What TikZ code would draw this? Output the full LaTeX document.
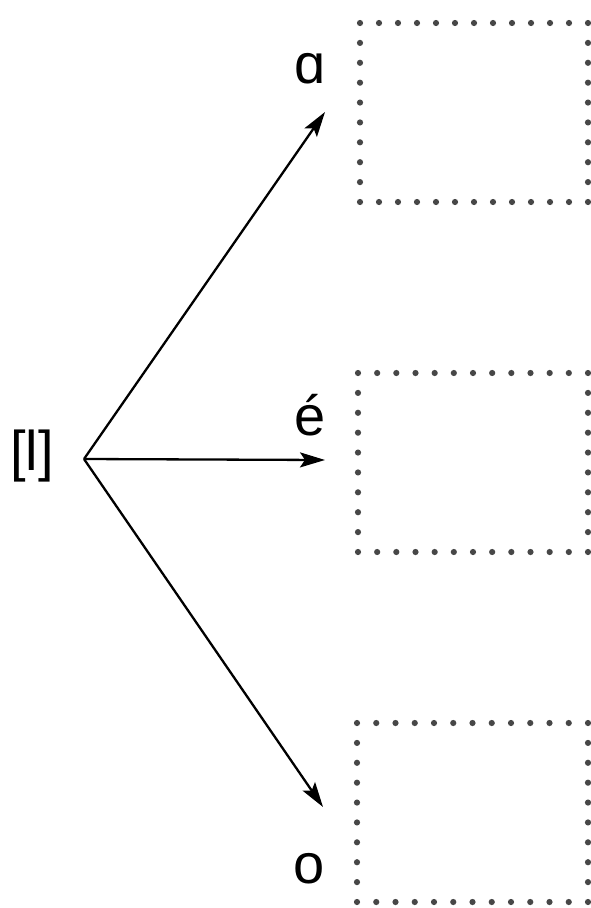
\documentclass[tikz,border=0pt]{standalone}
\usepackage{fontspec}
\setmainfont{Liberation Sans}
\usetikzlibrary{arrows.meta,calc}
\tikzset{
  lbl/.style={anchor=base, inner sep=0pt, font=\fontsize{56}{60}\selectfont},
  arr/.style={line width=2.3pt, -{Stealth[length=25pt, width=15pt, inset=5pt]}},
  dotc/.style={fill=black!72}
}
\newcommand{\dotbox}[5]{% name, left, top, right, bottom
  \coordinate (#1-nw) at (#2,#3);
  \coordinate (#1-se) at (#4,#5);
  \foreach \i in {0,...,12}{
    \fill[dotc] ($(#1-nw)!\i/12!(#1-nw -| #1-se)$) circle (3.1pt);
    \fill[dotc] ($(#1-nw |- #1-se)!\i/12!(#1-se)$) circle (3.1pt);
  }
  \foreach \j in {1,...,8}{
    \fill[dotc] ($(#1-nw)!\j/9!(#1-nw |- #1-se)$) circle (3.1pt);
    \fill[dotc] ($(#1-nw -| #1-se)!\j/9!(#1-se)$) circle (3.1pt);
  }
}
\begin{document}
\begin{tikzpicture}[x=1pt,y=-1pt]
\useasboundingbox (0,0) rectangle (591,908);
\fill[white] (0,0) rectangle (591,908);
\node[lbl] (l) at (32,470) {[l]};
\node[lbl] (la) at (310.5,83) {ɑ};
\node[lbl] (le) at (310,435) {é};
\node[lbl] (lo) at (309,883) {o};
\coordinate (v) at (84,459);
\coordinate (ta) at (325,112);
\coordinate (te) at (325,460);
\coordinate (to) at (323,807);
\draw[arr] (v) -- (ta);
\draw[arr] (v) -- (te);
\draw[arr] (v) -- (to);
\dotbox{b1}{360}{23}{588}{202}
\dotbox{b2}{358}{373}{588}{552}
\dotbox{b3}{357}{723}{588}{902}
\end{tikzpicture}
\end{document}
